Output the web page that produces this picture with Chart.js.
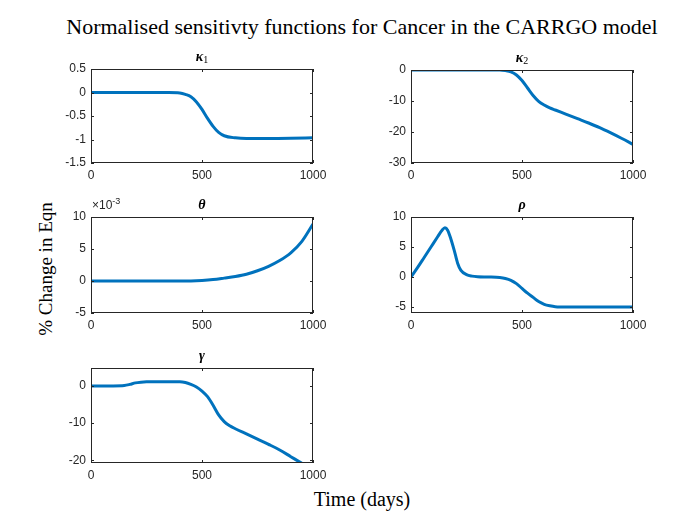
<!DOCTYPE html>
<html>
<head>
<meta charset="utf-8">
<script src="https://cdn.jsdelivr.net/npm/chart.js@4.4.1/dist/chart.umd.min.js"></script>
<style>
  body { margin: 0; background: #fff; }
  #fig { position: relative; width: 700px; height: 525px; overflow: hidden; background: #fff; }
  #fig canvas { position: absolute; }
  .lbl { position: absolute; font-family: "Liberation Serif", "Times New Roman", serif; color: #000; white-space: nowrap; line-height: 1; }
  #title { left: 362px; top: 16px; font-size: 22px; transform: translateX(-50%); }
  #ylab { left: 45px; top: 269px; font-size: 19px; transform: translate(-50%, -50%) rotate(-90deg); }
  #xlab { left: 362px; top: 499px; font-size: 20px; transform: translate(-50%, -50%); }
</style>
</head>
<body>
<div id="fig">
  <div class="lbl" id="title">Normalised sensitivty functions for Cancer in the CARRGO model</div>
  <div class="lbl" id="ylab">% Change in Eqn</div>
  <div class="lbl" id="xlab">Time (days)</div>
</div>
<script>
// values
const timeTicks = [0, 500, 1000];

const kappa1Time = [0, 100, 200, 300, 350, 400, 425, 450, 475, 500, 525, 550, 575, 600, 650, 700, 800, 900, 1000];
const kappa1Vals = [0, 0, 0, 0, 0, -0.01, -0.04, -0.09, -0.2, -0.36, -0.55, -0.72, -0.85, -0.92, -0.965, -0.98, -0.98, -0.975, -0.965];
const kappa1Ticks = [-1.5, -1, -0.5, 0, 0.5];

const kappa2Time = [0, 100, 200, 300, 400, 425, 450, 475, 500, 525, 550, 575, 600, 625, 650, 700, 750, 800, 850, 900, 950, 1000];
const kappa2Vals = [0, 0, 0, 0, 0, -0.2, -0.6, -1.6, -3.4, -5.8, -8.2, -10.1, -11.3, -12.2, -12.9, -14.3, -15.7, -17.1, -18.6, -20.3, -22.1, -24.0];
const kappa2Ticks = [-30, -20, -10, 0];

const thetaTime = [0, 100, 200, 300, 400, 450, 500, 550, 600, 650, 700, 750, 800, 850, 900, 950, 1000];
const thetaVals = [0, 0, 0, 0, 0, 0.00001, 0.00008, 0.00022, 0.00045, 0.0007, 0.00105, 0.0016, 0.0023, 0.0032, 0.0044, 0.0062, 0.0089];
const thetaTicks = [-0.005, 0, 0.005, 0.01];

const rhoTime = [0, 30, 60, 90, 120, 140, 153, 165, 180, 195, 210, 225, 250, 275, 300, 350, 400, 425, 450, 475, 500, 525, 550, 575, 600, 625, 650, 700, 800, 1000];
const rhoVals = [0, 1.6, 3.3, 5.0, 6.7, 7.8, 8.2, 7.8, 6.3, 4.4, 2.3, 1.1, 0.4, 0.15, 0.05, 0, -0.1, -0.25, -0.55, -1.1, -1.9, -2.7, -3.4, -4.1, -4.55, -4.8, -4.95, -5.0, -5.0, -5.0];
const rhoTicks = [-5, 0, 5, 10];

const gammaTime = [0, 100, 150, 175, 200, 225, 250, 400, 425, 450, 475, 500, 525, 550, 575, 600, 625, 650, 700, 750, 800, 850, 900, 950, 1000];
const gammaVals = [0, 0, 0.1, 0.4, 0.8, 1.0, 1.1, 1.1, 0.9, 0.4, -0.3, -1.4, -2.9, -5.2, -7.8, -9.6, -10.7, -11.5, -12.9, -14.3, -15.7, -17.2, -19.0, -20.8, -22.6];
const gammaTicks = [-20, -10, 0];

const panels = [
  { name: '\u03BA', sub: '1', time: kappa1Time, vals: kappa1Vals, ticks: kappa1Ticks, min: -1.5, max: 0.5, left: 91, top: 69, w: 222, h: 94 },
  { name: '\u03BA', sub: '2', time: kappa2Time, vals: kappa2Vals, ticks: kappa2Ticks, min: -30, max: 0, left: 411, top: 70, w: 222, h: 93 },
  { name: '\u03B8', sub: '', time: thetaTime, vals: thetaVals, ticks: thetaTicks, min: -0.005, max: 0.01, left: 91, top: 217, w: 222, h: 96, exp: '-3', scale: 1000 },
  { name: '\u03C1', sub: '', time: rhoTime, vals: rhoVals, ticks: rhoTicks, min: -6, max: 10, left: 411, top: 217, w: 222, h: 96 },
  { name: '\u03B3', sub: '', time: gammaTime, vals: gammaVals, ticks: gammaTicks, min: -20.7, max: 4.8, left: 91, top: 368, w: 222, h: 95 }
];

const PAD_L = 50, PAD_T = 30, PAD_R = 30, PAD_B = 28;
const axisColor = '#262626';
const tickFont = { family: '"Liberation Sans", Arial, sans-serif', size: 12 };

// box around the axes, inward ticks on all sides, subplot title
const framePlugin = {
  id: 'frame',
  afterDraw(chart, args, opts) {
    const { ctx, chartArea: a, scales } = chart;
    const tl = 3;
    ctx.save();
    ctx.strokeStyle = axisColor;
    ctx.lineWidth = 1;
    ctx.strokeRect(a.left + 0.5, a.top + 0.5, a.right - a.left - 1, a.bottom - a.top - 1);
    ctx.beginPath();
    scales.x.ticks.forEach(t => {
      const px = Math.round(scales.x.getPixelForValue(t.value)) + 0.5;
      ctx.moveTo(px, a.bottom); ctx.lineTo(px, a.bottom - tl);
      ctx.moveTo(px, a.top); ctx.lineTo(px, a.top + tl);
    });
    scales.y.ticks.forEach(t => {
      const py = Math.round(scales.y.getPixelForValue(t.value)) + 0.5;
      ctx.moveTo(a.left, py); ctx.lineTo(a.left + tl, py);
      ctx.moveTo(a.right, py); ctx.lineTo(a.right - tl, py);
    });
    ctx.stroke();

    // title
    ctx.fillStyle = '#000';
    ctx.textBaseline = 'alphabetic';
    const mainFont = 'italic bold 14px "Liberation Serif", "Times New Roman", serif';
    const subFont = '10px "Liberation Serif", "Times New Roman", serif';
    ctx.font = mainFont;
    const w1 = ctx.measureText(opts.name).width;
    ctx.font = subFont;
    const w2 = opts.sub ? ctx.measureText(opts.sub).width : 0;
    const cx = (a.left + a.right) / 2;
    const x0 = cx - (w1 + w2) / 2;
    const base = a.top - 8;
    ctx.font = mainFont;
    ctx.textAlign = 'left';
    ctx.fillText(opts.name, x0, base);
    if (opts.sub) {
      ctx.font = subFont;
      ctx.fillText(opts.sub, x0 + w1, base + 2);
    }

    // exponent label
    if (opts.exp) {
      ctx.fillStyle = axisColor;
      ctx.font = '12px "Liberation Sans", Arial, sans-serif';
      const bx = a.left + 1;
      const by = a.top - 8;
      ctx.fillText('\u00D710', bx, by);
      const ew = ctx.measureText('\u00D710').width;
      ctx.font = '9px "Liberation Sans", Arial, sans-serif';
      ctx.fillText(opts.exp, bx + ew, by - 5);
    }
    ctx.restore();
  }
};

const fig = document.getElementById('fig');

panels.forEach(p => {
  const canvas = document.createElement('canvas');
  const cw = PAD_L + p.w + PAD_R;
  const ch = PAD_T + p.h + PAD_B;
  canvas.width = cw;
  canvas.height = ch;
  canvas.style.width = cw + 'px';
  canvas.style.height = ch + 'px';
  canvas.style.left = (p.left - PAD_L) + 'px';
  canvas.style.top = (p.top - PAD_T) + 'px';
  fig.appendChild(canvas);

  const mult = p.scale || 1;

  new Chart(canvas, {
    type: 'line',
    data: {
      datasets: [{
        data: p.time.map((t, i) => ({ x: t, y: p.vals[i] })),
        borderColor: '#0072BD',
        borderWidth: 3,
        pointRadius: 0,
        fill: false,
        cubicInterpolationMode: 'monotone'
      }]
    },
    options: {
      responsive: false,
      animation: false,
      devicePixelRatio: 1,
      layout: { padding: { left: 0, top: PAD_T, right: PAD_R, bottom: 0 } },
      plugins: {
        legend: { display: false },
        tooltip: { enabled: false },
        frame: { name: p.name, sub: p.sub, exp: p.exp }
      },
      scales: {
        x: {
          type: 'linear',
          min: 0,
          max: 1000,
          grid: { display: false, drawTicks: false },
          border: { display: false },
          afterBuildTicks: s => { s.ticks = timeTicks.map(v => ({ value: v })); },
          afterFit: s => { s.height = PAD_B; },
          ticks: {
            color: axisColor,
            font: tickFont,
            padding: 5,
            maxRotation: 0,
            callback: v => String(v)
          }
        },
        y: {
          type: 'linear',
          min: p.min,
          max: p.max,
          grid: { display: false, drawTicks: false },
          border: { display: false },
          afterBuildTicks: s => { s.ticks = p.ticks.map(v => ({ value: v })); },
          afterFit: s => { s.width = PAD_L; },
          ticks: {
            color: axisColor,
            font: tickFont,
            padding: 5,
            callback: v => String(Math.round(v * mult * 100) / 100)
          }
        }
      }
    },
    plugins: [framePlugin]
  });
});
</script>
</body>
</html>
